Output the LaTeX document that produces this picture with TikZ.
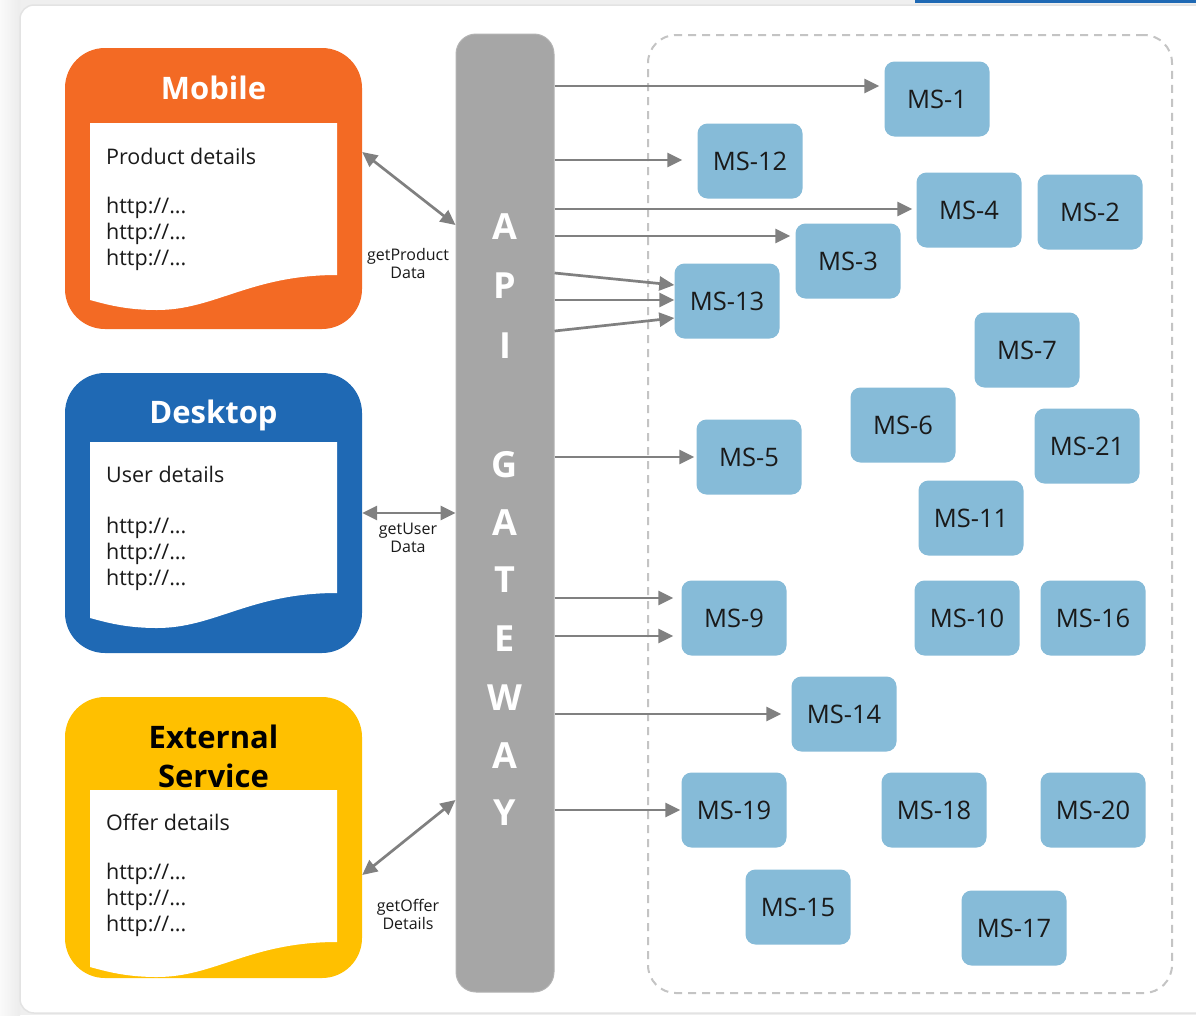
\documentclass[tikz,border=0pt]{standalone}
\usepackage{fontspec}
\setmainfont{Open Sans}
\usetikzlibrary{arrows.meta,calc}
\definecolor{bgC}{HTML}{EFEFEF}
\definecolor{panelC}{HTML}{E3E3E3}
\definecolor{orangeC}{HTML}{F36A24}
\definecolor{blueC}{HTML}{1F69B4}
\definecolor{yellowC}{HTML}{FFC000}
\definecolor{gwC}{HTML}{A6A6A6}
\definecolor{arrowC}{HTML}{808080}
\definecolor{msC}{HTML}{86BBD8}
\definecolor{dashC}{HTML}{C4C4C4}
\definecolor{txtC}{HTML}{1A1A1A}
\newcommand\drawdocshape[2]{%
  \fill[white] (90,#1) -- (337,#1) -- (337,#2)
    .. controls (250,#2) and (215,#2+35) .. (157,#2+35)
    .. controls (125,#2+35) and (105,#2+29) .. (90,#2+25) -- cycle;}
\begin{document}
\begin{tikzpicture}[x=1pt,y=-1pt,
  client/.style={rounded corners=40pt, minimum width=297pt, minimum height=281pt, inner sep=0pt},
  ms/.style={fill=msC, rounded corners=10pt, minimum width=105pt, minimum height=75pt, inner sep=0pt, font=\fontsize{25.5}{30}\selectfont, text=txtC},
  titletext/.style={font=\fontsize{31}{39}\selectfont\bfseries, align=center, inner sep=0pt},
  doctext/.style={font=\fontsize{21.5}{26}\selectfont, align=left, anchor=north west, inner sep=0pt, text=txtC},
  gwletter/.style={font=\fontsize{36}{40}\selectfont\bfseries, text=white, anchor=base, inner sep=0pt},
  lbl/.style={font=\fontsize{16}{18}\selectfont, align=center, inner sep=0pt, text=txtC},
  conn/.style={draw=arrowC, line width=2.7pt, -{Triangle[length=15pt,width=14pt]}},
  biconn/.style={draw=arrowC, line width=2.7pt, {Triangle[length=15pt,width=14pt]}-{Triangle[length=15pt,width=14pt]}},
]
\useasboundingbox (0,0) rectangle (1196,1015);
% background
\fill[bgC] (0,0) rectangle (1196,1015);
\shade[left color=gray!4, right color=gray!15] (0,0) rectangle (20,1015);
\fill[blueC] (915,0) rectangle (1196,3);
\draw[panelC, line width=1.5pt, fill=white, rounded corners=14pt] (20,5) rectangle (1210,1013);

% microservice area
\node[draw=dashC, line width=2pt, dash pattern=on 8pt off 6pt, rounded corners=28pt,
      minimum width=524pt, minimum height=958pt, inner sep=0pt] (area) at (910,514) {};

% clients
\node[client, fill=orangeC] (mobile) at (213.5,188.5) {};
\node[client, fill=blueC, minimum height=280pt] (desktop) at (213.5,513) {};
\node[client, fill=yellowC] (external) at (213.5,837.5) {};
\drawdocshape{123}{275}
\drawdocshape{442}{593}
\drawdocshape{790}{942}
\node[titletext, text=white, anchor=base] (mobileT) at (213.5,99) {Mobile};
\node[titletext, text=white, anchor=base] (desktopT) at (213.5,423) {Desktop};
\node[titletext, text=black] (externalT) at (213.5,756) {External\\Service};
\node[doctext] (mobileD) at (106,148) {Product details\\[23pt]http://...\\http://...\\http://...};
\node[doctext] (desktopD) at (106,466) {User details\\[25pt]http://...\\http://...\\http://...};
\node[doctext] (externalD) at (106,814) {Offer details\\[23pt]http://...\\http://...\\http://...};

% gateway
\node[fill=gwC, draw=gwC!85!white, line width=1pt, rounded corners=20pt,
      minimum width=98pt, minimum height=958pt, inner sep=0pt] (gw) at (505,513) {};
\foreach \ch/\yy [count=\i] in {A/239,P/298,I/358,G/477,A/535,T/592,E/651,W/710,A/768,Y/825}
  \node[gwletter] (gwl\i) at (505,\yy) {\ch};

% client connectors
\draw[biconn] (mobile.east |- 0,152) -- (gw.west |- 0,225);
\draw[biconn] (desktop.east |- 0,513) -- (gw.west |- 0,513);
\draw[biconn] (external.east |- 0,875) -- (gw.west |- 0,800);
\node[lbl] (lblP) at (408,263.5) {getProduct\\Data};
\node[lbl] (lblU) at (408,538) {getUser\\Data};
\node[lbl] (lblO) at (408,914.5) {getOffer\\Details};

% microservices
\foreach \n/\xx/\yy in {1/937/99, 12/750/161, 4/969/210, 2/1090/212, 3/848/261, 13/727/301,
  7/1027/350, 6/903/425, 21/1087/446, 5/749/457, 11/971/518, 9/734/618, 10/967/618,
  16/1093/618, 14/844/714, 19/734/810, 18/934/810, 20/1093/810, 15/798/907, 17/1014/928}
  \node[ms] (ms\n) at (\xx,\yy) {MS-\n};

% gateway connectors
\draw[conn, shorten >=5pt] (gw.east |- 0,86) -- (ms1.west |- 0,86);
\draw[conn, shorten >=15pt] (gw.east |- 0,160) -- (ms12.west |- 0,160);
\draw[conn, shorten >=4pt] (gw.east |- 0,209) -- (ms4.west |- 0,209);
\draw[conn, shorten >=5pt] (gw.east |- 0,236) -- (ms3.west |- 0,236);
\draw[conn] (gw.east |- 0,273) -- (ms13.west |- 0,285);
\draw[conn] (gw.east |- 0,300) -- (ms13.west |- 0,300);
\draw[conn] (gw.east |- 0,331) -- (ms13.west |- 0,318);
\draw[conn, shorten >=2pt] (gw.east |- 0,457) -- (ms5.west |- 0,457);
\draw[conn, shorten >=8pt] (gw.east |- 0,598) -- (ms9.west |- 0,598);
\draw[conn, shorten >=8pt] (gw.east |- 0,636) -- (ms9.west |- 0,636);
\draw[conn, shorten >=10pt] (gw.east |- 0,714) -- (ms14.west |- 0,714);
\draw[conn, shorten >=1pt] (gw.east |- 0,810) -- (ms19.west |- 0,810);
\end{tikzpicture}
\end{document}
